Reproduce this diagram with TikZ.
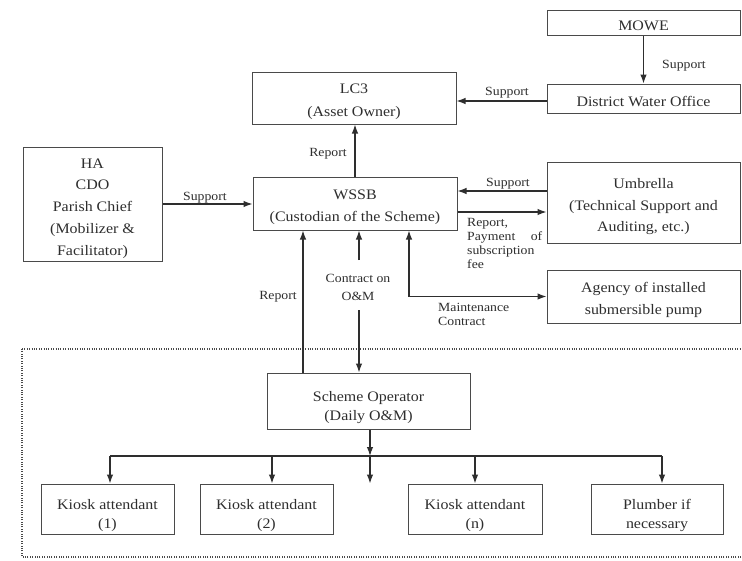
\documentclass[tikz,border=0pt]{standalone}
\usepackage{fontspec}
\setmainfont{Liberation Serif}[FakeStretch=1.1]
\usetikzlibrary{arrows.meta}
\definecolor{ink}{HTML}{2E2E2E}
\definecolor{edge}{HTML}{4A4A4A}
\begin{document}
\begin{tikzpicture}[x=1pt,y=-1pt,
  bx/.style={draw=edge,line width=1pt,rectangle,inner sep=0pt},
  btext/.style={inner sep=0pt,align=center,text=ink,yshift=-3.5pt,
    font=\fontsize{14.5}{22.5}\selectfont},
  ktext/.style={btext,yshift=-3pt,font=\fontsize{14.5}{18.5}\selectfont},
  txt/.style={label={[btext]center:{#1}}},
  ktxt/.style={label={[ktext]center:{#1}}},
  lbl/.style={inner sep=0pt,text=ink,font=\fontsize{12.5}{14}\selectfont},
  arr/.style={draw=ink,line width=1.2pt,-{Latex[length=9pt,width=6.5pt]}},
  arrb/.style={draw=ink,line width=1.2pt,{Latex[length=9pt,width=6.5pt]}-{Latex[length=9pt,width=6.5pt]}},
  ln/.style={draw=ink,line width=1.2pt}]
\useasboundingbox (0,0) rectangle (742,560);
\fill[white] (0,0) rectangle (742,560);
% dotted frame
\draw[edge,line width=1.3pt,dash pattern=on 1pt off 1.4pt] (22,349) -- (748,349) -- (748,557) -- (22,557) -- cycle;
% boxes
\node[bx,minimum width=193,minimum height=25,txt={MOWE}] (mowe) at (643.5,22.5) {};
\node[bx,minimum width=193,minimum height=29,txt={District Water Office}] (dwo) at (643.5,98.5) {};
\node[bx,minimum width=204,minimum height=52,txt={LC3\\(Asset Owner)}] (lc3) at (354,98) {};
\node[bx,minimum width=204,minimum height=53,txt={WSSB\\(Custodian of the Scheme)}] (wssb) at (355,203.5) {};
\node[bx,minimum width=139,minimum height=114,label={[btext,yshift=-1pt,font=\fontsize{14.5}{21.75}\selectfont]center:{HA\\CDO\\Parish Chief\\(Mobilizer \&\\Facilitator)}}] (ha) at (92.5,204) {};
\node[bx,minimum width=193,minimum height=81,label={[btext,yshift=-1pt,font=\fontsize{14.5}{21.5}\selectfont]center:{Umbrella\\(Technical Support and\\Auditing, etc.)}}] (umb) at (643.5,202.5) {};
\node[bx,minimum width=193,minimum height=53,txt={Agency of installed\\submersible pump}] (agency) at (643.5,296.5) {};
\node[bx,minimum width=203,minimum height=56,ktxt={Scheme Operator\\(Daily O\&M)}] (so) at (368.5,401) {};
\node[bx,minimum width=133,minimum height=50,ktxt={Kiosk attendant\\(1)}] (k1) at (107.5,509) {};
\node[bx,minimum width=133,minimum height=50,ktxt={Kiosk attendant\\(2)}] (k2) at (266.5,509) {};
\node[bx,minimum width=134,minimum height=50,ktxt={Kiosk attendant\\(n)}] (kn) at (475,509) {};
\node[bx,minimum width=132,minimum height=50,ktxt={Plumber if\\necessary}] (pl) at (657,509) {};
% top connectors
\draw[arr] (mowe) -- (dwo);
\node[lbl] (l1) at (684,66) {Support};
\coordinate (d1) at ([yshift=-2.5pt]dwo.west);
\draw[arr] (d1) -- (d1 -| lc3.east);
\node[lbl] (l2) at (507,93) {Support};
\draw[arr] (wssb.north) -- (wssb.north |- lc3.south);
\node[lbl] (l3) at (328,154) {Report};
\draw[arr] (ha.east) -- (ha.east -| wssb.west);
\node[lbl] (l4) at (205,198) {Support};
\coordinate (u1) at ([yshift=11.5pt]umb.west);
\draw[arr] (u1) -- (u1 -| wssb.east);
\node[lbl] (l5) at (508,184) {Support};
\coordinate (u2) at ([yshift=-9.5pt]umb.west);
\draw[arr] (u2 -| wssb.east) -- (u2);
\node[lbl,anchor=north west,text width=75pt,align=left] (l6) at (467,218) {Report,\\Payment\hfill of\\subscription\\fee};
\coordinate (m1) at ([xshift=54pt]wssb.south);
\draw[arrb] (m1) |- (agency.west);
\node[lbl,anchor=north west,align=left] (l7) at (438,303) {Maintenance\\Contract};
% contract on O&M
\coordinate (c1) at (359,260);
\coordinate (c2) at (359,310);
\draw[arr] (c1) -- (c1 |- wssb.south);
\draw[arr] (c2) -- (c2 |- so.north);
\node[lbl,align=center,font=\fontsize{12.5}{18}\selectfont] (l8) at (358,287) {Contract on\\O\&M};
% report from scheme operator
\coordinate (r1) at ([xshift=-65.5pt]so.north);
\draw[arr] (r1) -- (r1 |- wssb.south);
\node[lbl] (l9) at (278,297) {Report};
% bus
\coordinate (j) at ([xshift=1.5pt]so.south |- 0,456);
\draw[arr] ([xshift=1.5pt]so.south) -- (j);
\coordinate (b1) at ([xshift=2.5pt]k1.north);
\coordinate (b2) at ([xshift=5.5pt]k2.north);
\coordinate (bp) at ([xshift=5pt]pl.north);
\draw[ln] (j -| b1) -- (j -| bp);
\draw[arr] (j -| b1) -- (b1);
\draw[arr] (j -| b2) -- (b2);
\draw[arr] (j -| kn.north) -- (kn.north);
\draw[arr] (j -| bp) -- (bp);
\draw[arr] (j) -- (j |- k1.north);
\end{tikzpicture}
\end{document}
